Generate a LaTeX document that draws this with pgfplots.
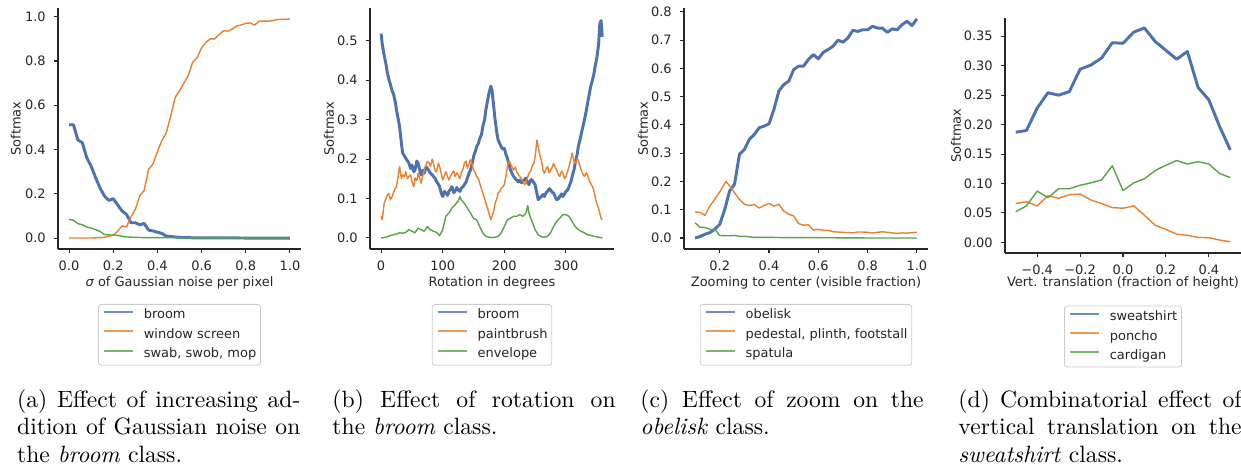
\documentclass[border=0pt]{standalone}
\usepackage{fontspec}
\usepackage{pgfplots}
\pgfplotsset{compat=1.18}
\newfontfamily\dejavu{DejaVu Sans}
\definecolor{cblue}{HTML}{4C72B0}
\definecolor{corange}{HTML}{E8812F}
\definecolor{cgreen}{HTML}{5BA347}
\newcommand{\plotfont}{\dejavu\fontsize{5.5}{6.6}\selectfont}

\pgfplotsset{
  mpl/.style={
    scale only axis,
    axis x line*=bottom, axis y line*=left,
    axis line style={-, line width=0.45pt, black!85},
    tick align=outside,
    major tick length=1.7pt,
    tick style={line width=0.45pt, black!85},
    ticklabel style={font=\plotfont, text=black!85},
    label style={font=\plotfont, text=black!85},
    legend cell align=left,
    legend style={draw=black!20, line width=0.35pt, rounded corners=1.2pt,
      inner xsep=1.8pt, inner ysep=2pt, row sep=2.8pt, column sep=4.2pt,
      font=\plotfont, text=black!85,
      nodes={inner sep=0pt, text height=4.2pt, text depth=1.2pt}},
    legend image code/.code={\draw[##1, line width=0.9pt, opacity=0.8] (0pt,1.5pt) -- (12.3pt,1.5pt);},
  },
  bl/.style={cblue, line width=1.25pt, line join=round},
  ol/.style={corange, line width=0.6pt, line join=round},
  gl/.style={cgreen, line width=0.6pt, line join=round},
}

\begin{document}
\begin{tikzpicture}
\path[use as bounding box] (0pt,0pt) rectangle (525.85pt,-197.03pt);

% (a) Gaussian noise
\begin{axis}[mpl, at={(24.58pt,-105.51pt)}, anchor=south west,
  width=102.97pt, height=102.12pt,
  xmin=-0.05, xmax=1.05, ymin=-0.0495, ymax=1.0395,
  xtick={0,0.2,0.4,0.6,0.8,1.0}, xticklabels={0.0,0.2,0.4,0.6,0.8,1.0},
  ytick={0,0.2,0.4,0.6,0.8,1.0}, yticklabels={0.0,0.2,0.4,0.6,0.8,1.0},
  xlabel={{\itshape σ} of Gaussian noise per pixel}, ylabel={Softmax},
  xlabel style={at={(axis description cs:0.5,-0.139)}, anchor=center},
  ylabel style={at={(axis description cs:-0.174,0.5)}, anchor=center},
  legend style={at={(0.5,-0.228)}, anchor=north},
]
\addplot[bl] coordinates {(0,0.512)(0.02,0.512)(0.04,0.443)(0.06,0.431)(0.08,0.363)(0.10,0.325)(0.12,0.273)(0.14,0.227)(0.16,0.190)(0.18,0.170)(0.20,0.178)(0.22,0.150)(0.24,0.122)(0.26,0.107)(0.28,0.069)(0.30,0.069)(0.32,0.060)(0.34,0.066)(0.36,0.036)(0.38,0.032)(0.40,0.026)(0.42,0.021)(0.44,0.009)(0.46,0.007)(0.48,0.005)(0.50,0.003)(0.52,0.002)(0.54,0.002)(0.56,0.001)(0.60,0.001)(0.70,0.001)(0.80,0.000)(0.90,0.000)(1.00,0.000)};
\addplot[ol] coordinates {(0,0)(0.02,0)(0.04,0)(0.06,0)(0.08,0)(0.10,0)(0.12,0.001)(0.14,0.002)(0.16,0.004)(0.18,0.008)(0.20,0.013)(0.22,0.030)(0.24,0.055)(0.26,0.050)(0.28,0.095)(0.30,0.130)(0.32,0.190)(0.34,0.215)(0.36,0.310)(0.38,0.335)(0.40,0.390)(0.42,0.440)(0.44,0.475)(0.46,0.550)(0.48,0.635)(0.50,0.665)(0.52,0.700)(0.54,0.735)(0.56,0.795)(0.58,0.815)(0.60,0.860)(0.62,0.885)(0.64,0.900)(0.66,0.900)(0.68,0.920)(0.70,0.937)(0.72,0.935)(0.74,0.945)(0.76,0.958)(0.78,0.963)(0.80,0.970)(0.82,0.972)(0.84,0.962)(0.86,0.980)(0.88,0.980)(0.90,0.980)(0.92,0.982)(0.94,0.987)(0.96,0.988)(0.98,0.988)(1.00,0.990)};
\addplot[gl] coordinates {(0,0.085)(0.02,0.080)(0.04,0.065)(0.06,0.060)(0.08,0.050)(0.10,0.045)(0.12,0.038)(0.14,0.030)(0.16,0.016)(0.18,0.014)(0.20,0.013)(0.22,0.012)(0.24,0.008)(0.26,0.005)(0.28,0.004)(0.30,0.003)(0.34,0.002)(0.40,0.002)(0.50,0.001)(0.60,0.001)(0.80,0.000)(1.00,0.000)};
\legend{broom, window screen, {swab, swob, mop}}
\end{axis}

% (b) rotation
\begin{axis}[mpl, at={(156.78pt,-105.51pt)}, anchor=south west,
  width=103.39pt, height=102.12pt,
  xmin=-18, xmax=378, ymin=-0.028, ymax=0.583,
  xtick={0,100,200,300}, xticklabels={0,100,200,300},
  ytick={0,0.1,0.2,0.3,0.4,0.5}, yticklabels={0.0,0.1,0.2,0.3,0.4,0.5},
  xlabel={Rotation in degrees}, ylabel={Softmax},
  xlabel style={at={(axis description cs:0.5,-0.141)}, anchor=center},
  ylabel style={at={(axis description cs:-0.168,0.5)}, anchor=center},
  legend style={at={(0.5,-0.228)}, anchor=north},
]
\addplot[bl] coordinates {(0,0.518)(2,0.49)(5,0.463)(8,0.44)(10,0.42)(13,0.40)(15,0.39)(18,0.372)(20,0.366)(23,0.345)(25,0.324)(28,0.30)(30,0.282)(33,0.24)(35,0.215)(38,0.208)(40,0.202)(43,0.195)(45,0.19)(48,0.176)(50,0.185)(53,0.168)(55,0.172)(58,0.195)(60,0.19)(63,0.17)(65,0.16)(68,0.172)(70,0.164)(73,0.18)(75,0.177)(78,0.17)(80,0.164)(83,0.16)(85,0.156)(88,0.15)(90,0.143)(93,0.136)(95,0.13)(98,0.112)(100,0.105)(103,0.118)(105,0.114)(108,0.108)(110,0.118)(113,0.124)(115,0.13)(118,0.115)(120,0.118)(123,0.128)(125,0.122)(128,0.118)(130,0.126)(133,0.13)(135,0.135)(138,0.142)(140,0.152)(143,0.165)(145,0.172)(148,0.19)(150,0.206)(153,0.22)(155,0.231)(158,0.24)(160,0.252)(163,0.262)(165,0.282)(168,0.30)(170,0.324)(173,0.35)(175,0.366)(178,0.385)(180,0.375)(183,0.33)(185,0.30)(188,0.265)(190,0.248)(193,0.238)(195,0.231)(198,0.225)(200,0.227)(203,0.21)(205,0.202)(208,0.185)(210,0.172)(213,0.162)(215,0.156)(218,0.15)(220,0.147)(223,0.142)(225,0.147)(228,0.14)(230,0.143)(233,0.148)(235,0.152)(238,0.14)(240,0.135)(243,0.148)(245,0.147)(248,0.14)(250,0.135)(253,0.112)(255,0.097)(258,0.102)(260,0.105)(263,0.11)(265,0.105)(268,0.115)(270,0.118)(273,0.125)(275,0.122)(278,0.115)(280,0.114)(283,0.103)(285,0.097)(288,0.1)(290,0.105)(293,0.112)(295,0.105)(298,0.112)(300,0.118)(303,0.122)(305,0.13)(308,0.142)(310,0.156)(313,0.172)(315,0.19)(318,0.21)(320,0.231)(323,0.25)(325,0.265)(328,0.285)(330,0.30)(333,0.322)(335,0.341)(338,0.365)(340,0.383)(343,0.40)(345,0.412)(348,0.44)(350,0.455)(353,0.49)(355,0.543)(357,0.551)(359,0.51)};
\addplot[ol] coordinates {(0,0.055)(2,0.046)(5,0.088)(8,0.10)(10,0.109)(13,0.112)(15,0.097)(18,0.105)(20,0.114)(23,0.125)(25,0.13)(28,0.16)(30,0.181)(33,0.15)(35,0.16)(38,0.155)(40,0.168)(43,0.15)(45,0.156)(48,0.16)(50,0.143)(53,0.13)(55,0.152)(58,0.145)(60,0.164)(63,0.15)(65,0.139)(68,0.16)(70,0.172)(73,0.185)(75,0.194)(78,0.19)(80,0.181)(83,0.2)(85,0.189)(88,0.17)(90,0.168)(93,0.19)(95,0.181)(98,0.16)(100,0.147)(103,0.16)(105,0.168)(108,0.155)(110,0.147)(113,0.158)(115,0.164)(118,0.17)(120,0.156)(123,0.165)(125,0.16)(128,0.15)(130,0.164)(133,0.175)(135,0.189)(138,0.195)(140,0.177)(143,0.19)(145,0.198)(148,0.185)(150,0.172)(153,0.165)(155,0.156)(158,0.15)(160,0.139)(163,0.125)(165,0.114)(168,0.1)(170,0.088)(173,0.075)(175,0.063)(178,0.046)(180,0.055)(183,0.07)(185,0.088)(188,0.1)(190,0.114)(193,0.118)(195,0.126)(198,0.13)(200,0.135)(203,0.16)(205,0.181)(208,0.195)(210,0.189)(213,0.178)(215,0.172)(218,0.18)(220,0.168)(223,0.16)(225,0.156)(228,0.15)(230,0.143)(233,0.135)(235,0.139)(238,0.155)(240,0.164)(243,0.17)(245,0.181)(248,0.19)(250,0.206)(253,0.248)(255,0.231)(258,0.206)(260,0.198)(263,0.17)(265,0.164)(268,0.175)(270,0.181)(273,0.165)(275,0.172)(278,0.18)(280,0.189)(283,0.178)(285,0.172)(288,0.16)(290,0.156)(293,0.17)(295,0.164)(298,0.15)(300,0.156)(303,0.17)(305,0.181)(308,0.2)(310,0.215)(313,0.195)(315,0.189)(318,0.2)(320,0.198)(323,0.18)(325,0.172)(328,0.16)(330,0.156)(333,0.165)(335,0.16)(338,0.145)(340,0.139)(343,0.13)(345,0.122)(348,0.1)(350,0.088)(353,0.075)(355,0.063)(357,0.05)(359,0.046)};
\addplot[gl] coordinates {(0,0.0)(5,0.001)(10,0.003)(15,0.006)(20,0.008)(25,0.01)(30,0.013)(35,0.012)(40,0.014)(45,0.021)(50,0.017)(55,0.013)(60,0.025)(65,0.021)(70,0.017)(75,0.029)(80,0.021)(85,0.017)(90,0.014)(95,0.006)(100,0.021)(105,0.055)(110,0.063)(115,0.076)(120,0.084)(125,0.093)(128,0.105)(130,0.097)(135,0.088)(140,0.076)(145,0.063)(150,0.05)(155,0.046)(160,0.029)(165,0.013)(170,0.004)(175,0.002)(180,0.001)(185,0.002)(190,0.004)(195,0.013)(200,0.029)(205,0.046)(210,0.05)(215,0.055)(220,0.055)(225,0.059)(230,0.055)(235,0.063)(238,0.082)(240,0.063)(245,0.042)(250,0.021)(255,0.008)(260,0.003)(265,0.002)(270,0.004)(275,0.013)(280,0.029)(285,0.042)(290,0.05)(295,0.059)(300,0.059)(305,0.055)(310,0.042)(315,0.029)(320,0.021)(325,0.017)(330,0.013)(335,0.008)(340,0.007)(345,0.004)(350,0.003)(355,0.001)(359,0.0)};
\legend{broom, paintbrush, envelope}
\end{axis}

% (c) zoom
\begin{axis}[mpl, at={(289.83pt,-105.51pt)}, anchor=south west,
  width=103.39pt, height=102.12pt,
  xmin=0.055, xmax=1.045, ymin=-0.039, ymax=0.814,
  xtick={0.2,0.4,0.6,0.8,1.0}, xticklabels={0.2,0.4,0.6,0.8,1.0},
  ytick={0,0.1,0.2,0.3,0.4,0.5,0.6,0.7,0.8}, yticklabels={0.0,0.1,0.2,0.3,0.4,0.5,0.6,0.7,0.8},
  xlabel={Zooming to center (visible fraction)}, ylabel={Softmax},
  xlabel style={at={(axis description cs:0.5,-0.139)}, anchor=center},
  ylabel style={at={(axis description cs:-0.168,0.5)}, anchor=center},
  legend style={at={(0.5,-0.228)}, anchor=north},
]
\addplot[bl] coordinates {(0.10,0.0)(0.12,0.005)(0.14,0.013)(0.16,0.019)(0.18,0.031)(0.20,0.048)(0.22,0.10)(0.24,0.166)(0.26,0.19)(0.28,0.296)(0.30,0.313)(0.32,0.349)(0.34,0.366)(0.36,0.39)(0.38,0.396)(0.40,0.404)(0.42,0.455)(0.44,0.52)(0.46,0.543)(0.48,0.555)(0.50,0.596)(0.52,0.608)(0.54,0.608)(0.56,0.632)(0.58,0.649)(0.60,0.634)(0.62,0.657)(0.64,0.667)(0.66,0.679)(0.68,0.70)(0.70,0.693)(0.72,0.708)(0.74,0.735)(0.76,0.731)(0.78,0.737)(0.80,0.737)(0.82,0.749)(0.84,0.743)(0.86,0.743)(0.88,0.728)(0.90,0.74)(0.92,0.737)(0.94,0.755)(0.96,0.767)(0.98,0.752)(1.00,0.775)};
\addplot[ol] coordinates {(0.10,0.092)(0.12,0.09)(0.14,0.08)(0.16,0.113)(0.18,0.137)(0.20,0.163)(0.225,0.20)(0.24,0.185)(0.26,0.16)(0.28,0.137)(0.30,0.119)(0.32,0.115)(0.34,0.118)(0.36,0.106)(0.38,0.115)(0.40,0.122)(0.42,0.113)(0.44,0.119)(0.46,0.095)(0.48,0.084)(0.50,0.078)(0.52,0.051)(0.54,0.045)(0.56,0.047)(0.58,0.028)(0.60,0.031)(0.62,0.027)(0.64,0.027)(0.66,0.022)(0.68,0.021)(0.70,0.020)(0.72,0.019)(0.74,0.018)(0.76,0.021)(0.78,0.021)(0.80,0.02)(0.82,0.018)(0.84,0.02)(0.86,0.022)(0.88,0.02)(0.90,0.018)(0.92,0.016)(0.94,0.018)(0.96,0.017)(0.98,0.019)(1.00,0.02)};
\addplot[gl] coordinates {(0.10,0.054)(0.12,0.038)(0.14,0.037)(0.16,0.031)(0.18,0.031)(0.20,0.009)(0.22,0.008)(0.24,0.008)(0.26,0.009)(0.28,0.006)(0.30,0.006)(0.32,0.004)(0.34,0.002)(0.40,0.002)(0.50,0.001)(0.60,0.001)(0.80,0.000)(1.00,0.000)};
\legend{obelisk, {pedestal, plinth, footstall}, spatula}
\end{axis}

% (d) vertical translation
\begin{axis}[mpl, at={(425.85pt,-107.20pt)}, anchor=south west,
  width=100.0pt, height=99.58pt,
  xmin=-0.55, xmax=0.55, ymin=-0.018, ymax=0.381,
  xtick={-0.4,-0.2,0,0.2,0.4}, xticklabels={−0.4,−0.2,0.0,0.2,0.4},
  ytick={0,0.05,0.10,0.15,0.20,0.25,0.30,0.35}, yticklabels={0.00,0.05,0.10,0.15,0.20,0.25,0.30,0.35},
  xlabel={Vert. translation (fraction of height)}, ylabel={Softmax},
  xlabel style={at={(axis description cs:0.5,-0.128)}, anchor=center},
  ylabel style={at={(axis description cs:-0.208,0.5)}, anchor=center},
  legend style={at={(0.5,-0.224)}, anchor=north},
]
\addplot[bl] coordinates {(-0.50,0.187)(-0.45,0.19)(-0.40,0.228)(-0.35,0.254)(-0.30,0.25)(-0.25,0.256)(-0.20,0.294)(-0.15,0.301)(-0.10,0.313)(-0.05,0.339)(0.00,0.338)(0.05,0.357)(0.10,0.364)(0.15,0.341)(0.20,0.326)(0.25,0.311)(0.30,0.324)(0.35,0.263)(0.40,0.242)(0.45,0.197)(0.50,0.157)};
\addplot[ol] coordinates {(-0.50,0.066)(-0.45,0.069)(-0.40,0.062)(-0.35,0.079)(-0.30,0.075)(-0.25,0.081)(-0.20,0.082)(-0.15,0.072)(-0.10,0.066)(-0.05,0.059)(0.00,0.058)(0.05,0.062)(0.10,0.046)(0.15,0.029)(0.20,0.022)(0.25,0.014)(0.30,0.012)(0.35,0.0085)(0.40,0.008)(0.45,0.004)(0.50,0.001)};
\addplot[gl] coordinates {(-0.50,0.052)(-0.45,0.062)(-0.40,0.087)(-0.35,0.076)(-0.30,0.091)(-0.25,0.091)(-0.20,0.097)(-0.15,0.101)(-0.10,0.106)(-0.05,0.13)(0.00,0.088)(0.05,0.101)(0.10,0.108)(0.15,0.122)(0.20,0.131)(0.25,0.139)(0.30,0.133)(0.35,0.137)(0.40,0.133)(0.45,0.117)(0.50,0.11)};
\legend{sweatshirt, poncho, cardigan}
\end{axis}

% captions
\begin{scope}[every node/.style={anchor=base west, inner sep=0pt}]
\node at (7.08pt,-172.6pt) {\parbox[t]{120pt}{\fontsize{10}{11.65}\selectfont (a) Effect of increasing ad-\linebreak dition of Gaussian noise on\linebreak the \emph{broom} class.}};
\node at (140.68pt,-172.6pt) {\parbox[t]{120pt}{\fontsize{10}{11.65}\selectfont (b) Effect of rotation on\linebreak the \emph{broom} class.}};
\node at (271.19pt,-172.6pt) {\parbox[t]{120pt}{\fontsize{10}{11.65}\selectfont (c) Effect of zoom on the\linebreak \emph{obelisk} class.}};
\node at (405.93pt,-172.6pt) {\parbox[t]{120pt}{\fontsize{10}{11.65}\selectfont (d) Combinatorial effect of\linebreak vertical translation on the\linebreak \emph{sweatshirt} class.}};
\end{scope}
\end{tikzpicture}
\end{document}
